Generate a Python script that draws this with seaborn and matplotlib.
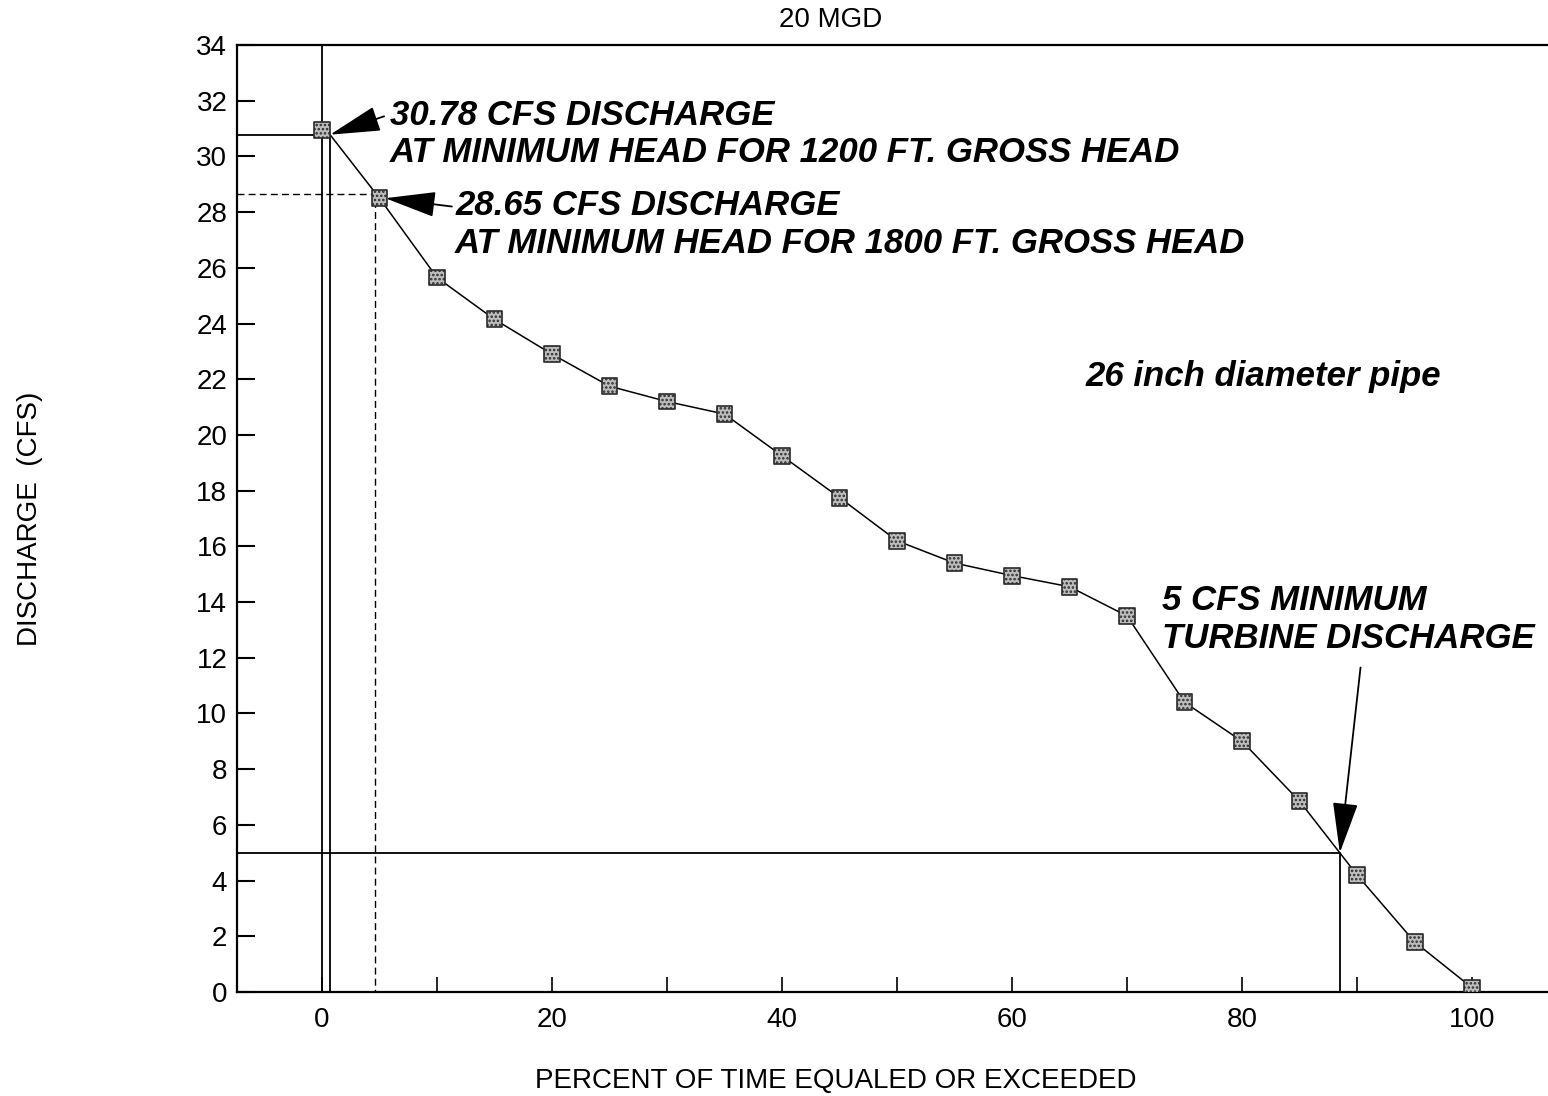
"""flow duration curve for a 26 inch pipe, 20 mgd"""

import pandas as pd
import matplotlib.pyplot as plt
import seaborn as sns

# percent of time equaled or exceeded
pct_time = [0, 5, 10, 15, 20, 25, 30, 35, 40, 45, 50,
            55, 60, 65, 70, 75, 80, 85, 90, 95, 100]
# discharge in cfs
discharge = [30.95, 28.5, 25.65, 24.15, 22.9, 21.75, 21.2, 20.75, 19.25, 17.75, 16.2,
             15.4, 14.95, 14.55, 13.5, 10.4, 9.0, 6.85, 4.2, 1.8, 0.15]

# design points (pct, cfs)
head_1200 = (0.7, 30.78)
head_1800 = (4.6, 28.65)
min_turbine = (88.5, 5.0)

y_ticks = list(range(0, 35, 2))
x_ticks = list(range(0, 101, 20))
x_minor = list(range(10, 100, 20))

df = pd.DataFrame({"pct": pct_time, "cfs": discharge})
# curve leaves the 1200 ft corner, then runs through the points
curve = pd.DataFrame({"pct": [head_1200[0]] + pct_time[1:],
                      "cfs": [head_1200[1]] + discharge[1:]})

sns.set_style("ticks")
plt.rcParams["font.family"] = ["Liberation Sans", "DejaVu Sans"]
plt.rcParams["text.color"] = "black"
plt.rcParams["axes.labelcolor"] = "black"
plt.rcParams["xtick.color"] = "black"
plt.rcParams["ytick.color"] = "black"
plt.rcParams["hatch.linewidth"] = 1.2

fig = plt.figure(figsize=(15.48, 10.96), dpi=100)
ax = fig.add_axes([237 / 1548, 104 / 1096, 1311 / 1548, 947 / 1096])

x_lo, x_hi = -7.39, 106.6
ax.set_xlim(x_lo, x_hi)
ax.set_ylim(0, 34)

# reference lines
lw = 1.3
ax.axvline(pct_time[0], color="black", lw=lw)
ax.plot([x_lo, head_1200[0], head_1200[0]], [head_1200[1], head_1200[1], 0],
        color="black", lw=lw)
ax.plot([x_lo, head_1800[0], head_1800[0]], [head_1800[1], head_1800[1], 0],
        color="black", lw=1.0, ls=(0, (5, 3)))
ax.plot([x_lo, min_turbine[0], min_turbine[0]], [min_turbine[1], min_turbine[1], 0],
        color="black", lw=lw)

sns.lineplot(data=curve, x="pct", y="cfs", color="black", lw=1.1, ax=ax)
sns.scatterplot(data=df, x="pct", y="cfs", marker="s", s=130, color="#bdbdbd",
                edgecolor="#2a2a2a", linewidth=1.2, hatch="....", zorder=5, ax=ax)

ax.set_xticks(x_ticks)
ax.set_xticks(x_minor, minor=True)
ax.set_yticks(y_ticks)
ax.tick_params(axis="y", direction="in", length=13, width=1.5, labelsize=20, pad=7)
ax.tick_params(axis="x", which="both", direction="in", length=11, width=1.2,
               labelsize=20, pad=11)
for side in ["left", "bottom", "top"]:
    ax.spines[side].set_linewidth(1.6)
    ax.spines[side].set_color("black")
ax.spines["right"].set_visible(False)

ax.set_ylabel("DISCHARGE  (CFS)", fontsize=20)
ax.yaxis.set_label_coords(-0.148, 0.5)
ax.set_xlabel("PERCENT OF TIME EQUALED OR EXCEEDED", fontsize=20)
ax.xaxis.set_label_coords(0.457, -0.08)
fig.text(831 / 1548, 1 - 20 / 1096, "20 MGD", fontsize=20, ha="center", va="center")

note = dict(fontsize=25, fontweight="bold", fontstyle="italic", ha="left",
            va="center", linespacing=1.18)
arrow = dict(arrowstyle="-|>,head_length=1.6,head_width=0.4", color="black",
             lw=1.3, mutation_scale=20, shrinkA=0, shrinkB=0)

ax.annotate("", xy=head_1200, xytext=(5.4, 31.44), arrowprops=arrow)
ax.text(5.9, 30.8, "30.78 CFS DISCHARGE\nAT MINIMUM HEAD FOR 1200 FT. GROSS HEAD", **note)

ax.annotate("", xy=(5.5, 28.5), xytext=(11.3, 28.2), arrowprops=arrow)
ax.text(11.57, 27.55, "28.65 CFS DISCHARGE\nAT MINIMUM HEAD FOR 1800 FT. GROSS HEAD", **note)

ax.text(66.35, 22.1, "26 inch diameter pipe", **note)

ax.annotate("", xy=min_turbine, xytext=(90.3, 11.65), arrowprops=arrow)
ax.text(73.0, 13.38, "5 CFS MINIMUM\nTURBINE DISCHARGE", **note)

fig.savefig("out.png", dpi=100, facecolor="white")
plt.close(fig)
